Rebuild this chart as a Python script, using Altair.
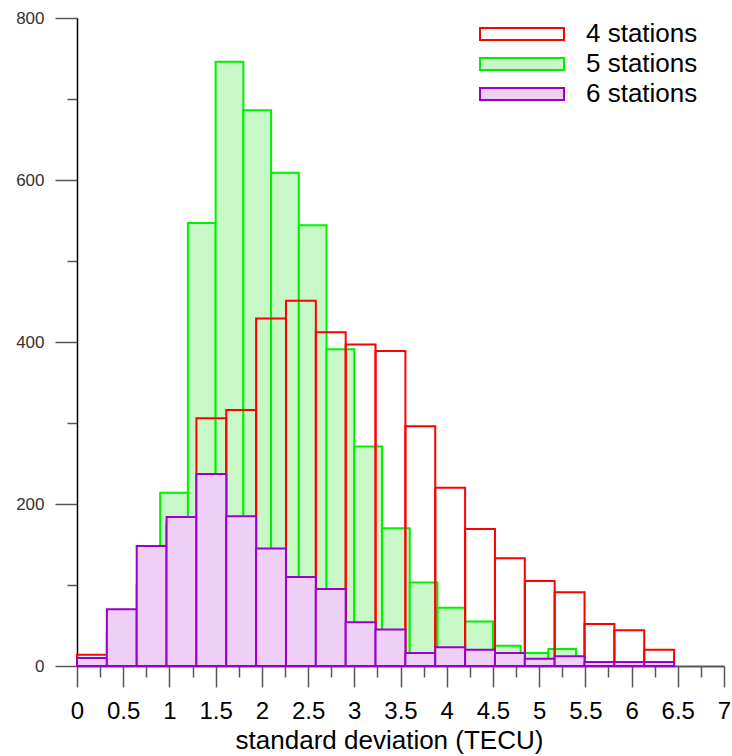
import altair as alt
import pandas as pd

# ---- data ----
series_names = ["4 stations", "5 stations", "6 stations"]

# 4 stations and 6 stations share bins of width ~0.323 starting at 0
red_counts = [14, 40, 100, 175, 306, 316, 429, 451, 412, 397, 389, 296,
              220, 169, 133, 105, 91, 52, 44, 20]
purple_counts = [10, 70, 148, 184, 237, 185, 145, 110, 95, 54, 45, 16,
                 23, 20, 16, 9, 12, 5, 5, 5]
# 5 stations uses bins of width 0.3 starting at 0.3
green_counts = [3, 40, 214, 547, 746, 686, 609, 544, 391, 271, 170, 103,
                72, 55, 25, 16, 21, 2, 1, 1]

red_purple_bin_width = 0.323
red_purple_first_edge = 0.0
green_bin_width = 0.3
green_first_edge = 0.3

x_major = [i * 0.5 for i in range(15)]
x_minor = [0.25 + i * 0.5 for i in range(14)]
y_major = [0, 200, 400, 600, 800]
y_minor = [100, 300, 500, 700]

rows = []


def add(name, counts, first, w):
    for i, c in enumerate(counts):
        a = first + i * w
        rows.append({"series": name, "x0": round(a, 4),
                     "x1": round(a + w, 4), "count": c})


# drawing order: green, red, purple
add("5 stations", green_counts, green_first_edge, green_bin_width)
add("4 stations", red_counts, red_purple_first_edge, red_purple_bin_width)
add("6 stations", purple_counts, red_purple_first_edge, red_purple_bin_width)
df = pd.DataFrame(rows)

FONT = "Liberation Sans"
stroke_colors = ["#ff0000", "#00f000", "#9900cc"]
fill_colors = ["transparent", "#c8f8c8", "#efcff5"]

xscale = alt.Scale(domain=[0, 7], nice=False, zero=False)
yscale = alt.Scale(domain=[0, 800], nice=False)

legend = alt.Legend(
    title=None, orient="none", legendX=468, legendY=3,
    symbolType="M-13,-1H1V1H-13Z", symbolSize=144, symbolStrokeWidth=2,
    labelFont=FONT, labelFontSize=26, labelColor="black",
    labelOffset=15, rowPadding=4,
)

x_axis_major = alt.Axis(
    orient="bottom", values=x_major, format="~g",
    tickSize=21, tickColor="#555", tickWidth=1.5,
    domainColor="#555", domainWidth=2,
    labelFont=FONT, labelFontSize=24, labelColor="black",
    labelBaseline="alphabetic", labelPadding=31,
    labelFlush=False, labelOverlap=False, grid=False,
    title="standard deviation (TECU)", titleFont=FONT, titleFontSize=26,
    titleFontWeight="normal", titleColor="black",
    titleBaseline="alphabetic", titleY=82, titleX=312,
)
x_axis_minor = alt.Axis(
    orient="bottom", values=x_minor, tickSize=11, tickColor="#555",
    tickWidth=1.5, labels=False, domain=False, grid=False, title=None,
)
y_axis_major = alt.Axis(
    orient="left", values=y_major, tickSize=22, tickColor="#555",
    tickWidth=1.5, domainColor="black", domainWidth=1.5,
    labelFont=FONT, labelFontSize=17, labelColor="#333",
    labelPadding=11, labelFlush=False, grid=False, title=None,
)
y_axis_minor = alt.Axis(
    orient="left", values=y_minor, tickSize=10, tickColor="#555",
    tickWidth=1.5, labels=False, domain=False, grid=False, title=None,
)

minor = alt.Chart(df).mark_rect(opacity=0).encode(
    x=alt.X("x0:Q", scale=xscale, axis=x_axis_minor),
    x2="x1:Q",
    y=alt.Y("count:Q", scale=yscale, axis=y_axis_minor),
    y2=alt.datum(0),
)

bars = alt.Chart(df).mark_rect(strokeWidth=2).encode(
    x=alt.X("x0:Q", scale=xscale, axis=x_axis_major),
    x2="x1:Q",
    y=alt.Y("count:Q", scale=yscale, axis=y_axis_major),
    y2=alt.datum(0),
    stroke=alt.Stroke("series:N",
                      scale=alt.Scale(domain=series_names, range=stroke_colors),
                      legend=legend),
    fill=alt.Fill("series:N",
                  scale=alt.Scale(domain=series_names, range=fill_colors),
                  legend=legend),
)

chart = alt.layer(minor, bars).resolve_axis(
    x="independent", y="independent"
).properties(
    width=647, height=648,
    autosize=alt.AutoSizeParams(type="none"),
    padding={"left": 77, "top": 18, "right": 8, "bottom": 90},
).configure_view(stroke=None)

chart.save("out.html", embed_options={"renderer": "svg", "actions": False})
